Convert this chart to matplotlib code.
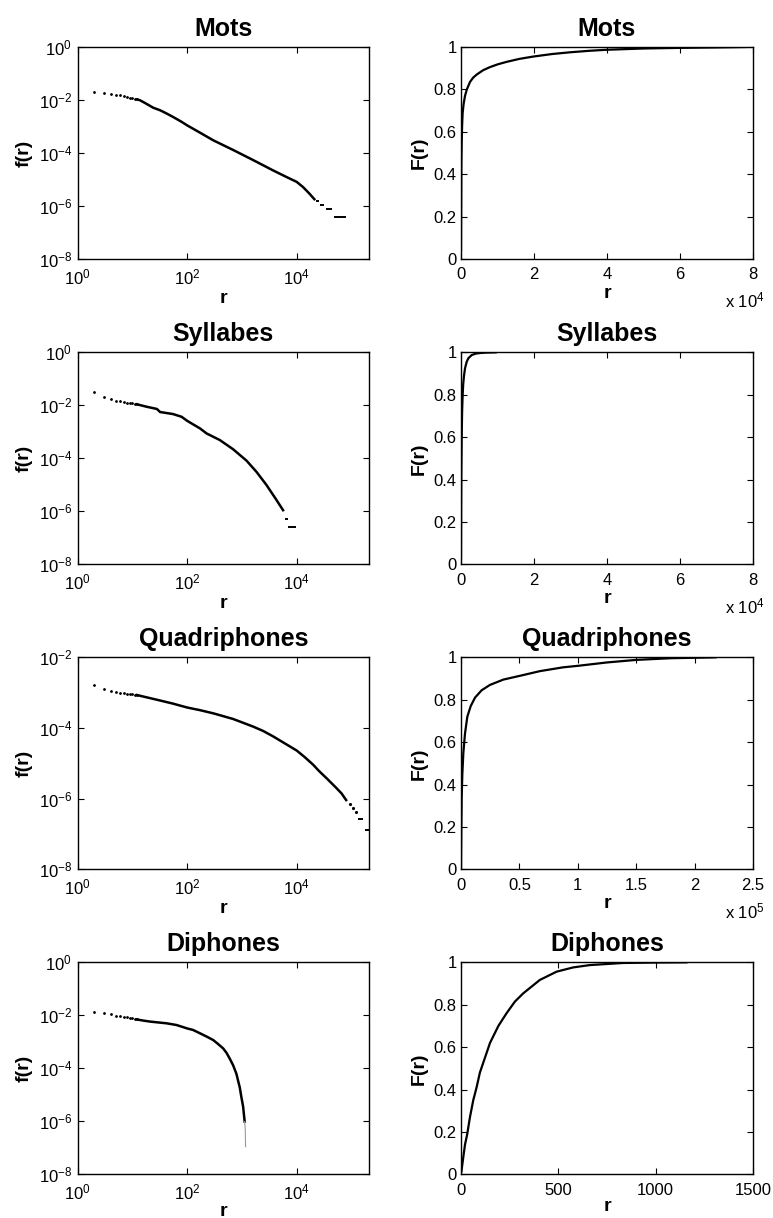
import numpy as np
import matplotlib
matplotlib.use('Agg')
from matplotlib import pyplot as plt

plt.rcParams['font.family'] = ['Liberation Sans', 'DejaVu Sans']
plt.rcParams['mathtext.fontset'] = 'custom'
plt.rcParams['mathtext.rm'] = 'Liberation Sans'
plt.rcParams['mathtext.it'] = 'Liberation Sans:italic'
plt.rcParams['mathtext.bf'] = 'Liberation Sans:bold'

titles = ['Mots', 'Syllabes', 'Quadriphones', 'Diphones']

# first ranks, drawn as separate dots
dot_r = [2, 3, 4, 5, 6, 7, 8, 9, 10, 11, 12]
mots_dot_f = [0.020, 0.018, 0.017, 0.016, 0.015, 0.014, 0.013, 0.012, 0.0115, 0.011, 0.0105]
syl_dot_f = [0.033, 0.020, 0.017, 0.015, 0.014, 0.013, 0.0125, 0.012, 0.012, 0.0115, 0.011]
quad_dot_f = [1.6e-3, 1.26e-3, 1.1e-3, 1.05e-3, 1.0e-3, 9.7e-4, 9.4e-4, 9.2e-4, 9.0e-4, 8.8e-4, 8.6e-4]
di_dot_f = [0.0138, 0.012, 0.011, 0.0098, 0.0092, 0.0087, 0.0083, 0.0080, 0.0077, 0.0073, 0.0070]

# dense part of rank/frequency curves
mots_r = [12, 13.7, 18, 24, 32, 42, 55, 79, 100, 170, 300, 690, 1600, 3700, 6400,
          10000, 13000, 17000, 21000]
mots_f = [0.0105, 0.0098, 0.0072, 0.0051, 0.0041, 0.0031, 0.0023, 0.0015, 0.0011, 5.9e-4,
          3.0e-4, 1.3e-4, 5.4e-5, 2.2e-5, 1.26e-5, 8.1e-6, 5.2e-6, 2.95e-6, 1.8e-6]
syl_r = [12, 18, 28, 32, 55, 79, 100, 171, 226, 394, 690, 1210, 1840, 2800, 4260, 5640]
syl_f = [0.011, 0.0089, 0.0073, 0.0056, 0.0047, 0.0037, 0.0026, 1.35e-3, 8.7e-4, 4.9e-4,
         2.2e-4, 8.2e-5, 3.1e-5, 9.9e-6, 2.7e-6, 1.1e-6]
quad_r = [12, 32, 55, 100, 171, 300, 690, 1590, 2420, 3700, 6000, 10000, 14000, 20000,
          26000, 35000, 53000, 66000, 80000]
quad_f = [8.6e-4, 6.0e-4, 4.9e-4, 3.8e-4, 3.2e-4, 2.6e-4, 1.8e-4, 1.1e-4, 8.3e-5, 5.8e-5,
          3.7e-5, 2.3e-5, 1.5e-5, 9.1e-6, 5.9e-6, 3.8e-6, 2.0e-6, 1.4e-6, 9.1e-7]
quad_tail_r = [93000, 106000, 123000]
quad_tail_f = [7.1e-7, 5.4e-7, 4.1e-7]
di_r = [12, 16, 21, 42, 64, 100, 128, 171, 226, 298, 368, 455, 524, 600, 690, 794, 850,
        912, 977, 1050, 1120]
di_f = [0.0070, 0.0063, 0.0058, 0.0050, 0.0043, 0.0032, 0.0028, 0.0021, 1.58e-3, 1.17e-3,
        8.2e-4, 5.6e-4, 3.8e-4, 2.3e-4, 1.3e-4, 6.1e-5, 3.4e-5, 1.9e-5, 8.1e-6, 3.6e-6, 9.8e-7]
di_tail_r = [1120, 1150, 1165]
di_tail_f = [9.8e-7, 4.7e-7, 1.1e-7]

# plateaus at the end (few occurrences)
mots_step_r0 = [22500, 27000, 34000, 47000]
mots_step_r1 = [26000, 32000, 45000, 80000]
mots_step_f = [1.48e-6, 1.1e-6, 7.4e-7, 3.7e-7]
syl_step_r0 = [6000, 6900]
syl_step_r1 = [6800, 9600]
syl_step_f = [5.0e-7, 2.5e-7]
quad_step_r0 = [130000, 175000]
quad_step_r1 = [160000, 220000]
quad_step_f = [2.6e-7, 1.3e-7]

# cumulative curves
mots_cr = [1, 100, 200, 300, 450, 700, 1100, 1600, 2460, 3300, 4300, 6000, 7900, 10000,
           12500, 16000, 19800, 25000, 29800, 35000, 39900, 50000, 60000, 70000, 78000]
mots_F = [0.04, 0.45, 0.56, 0.63, 0.69, 0.73, 0.77, 0.80, 0.835, 0.855, 0.87, 0.89, 0.905,
          0.918, 0.93, 0.944, 0.955, 0.967, 0.975, 0.982, 0.987, 0.993, 0.996, 0.998, 1.0]
syl_cr = [1, 50, 100, 200, 300, 450, 600, 820, 1100, 1550, 2000, 2900, 4000, 5200, 7000, 9500]
syl_F = [0.03, 0.3, 0.45, 0.62, 0.72, 0.80, 0.85, 0.89, 0.925, 0.955, 0.972, 0.987, 0.994,
         0.997, 0.999, 1.0]
quad_cr = [1, 285, 570, 1140, 2000, 3400, 5400, 8300, 12000, 17700, 24800, 36200, 50500,
           67600, 87500, 100000, 125000, 150000, 180000, 218000]
quad_F = [0.002, 0.2, 0.34, 0.45, 0.55, 0.64, 0.72, 0.77, 0.81, 0.845, 0.87, 0.895, 0.913,
          0.935, 0.953, 0.96, 0.976, 0.988, 0.996, 1.0]
di_cr = [2, 12, 20.5, 32, 46, 63, 80, 97, 123, 149, 192, 234, 277, 320, 405, 491, 576, 661,
         832, 1004, 1158]
di_F = [0.013, 0.083, 0.14, 0.19, 0.27, 0.35, 0.41, 0.48, 0.55, 0.62, 0.70, 0.76, 0.815,
        0.854, 0.917, 0.956, 0.976, 0.987, 0.997, 0.999, 1.0]

cdf_xticks = [[0, 20000, 40000, 60000, 80000], [0, 20000, 40000, 60000, 80000],
              [0, 50000, 100000, 150000, 200000, 250000], [0, 500, 1000, 1500]]
cdf_xlabels = [['0', '2', '4', '6', '8'], ['0', '2', '4', '6', '8'],
               ['0', '0.5', '1', '1.5', '2', '2.5'], ['0', '500', '1000', '1500']]
cdf_mult = ['x 10$^{4}$', 'x 10$^{4}$', 'x 10$^{5}$', '']
F_ticks = [0, 0.2, 0.4, 0.6, 0.8, 1]
F_labels = ['0', '0.2', '0.4', '0.6', '0.8', '1']

dots_f = [mots_dot_f, syl_dot_f, quad_dot_f, di_dot_f]
lines = [(mots_r, mots_f), (syl_r, syl_f), (quad_r, quad_f), (di_r, di_f)]
steps = [(mots_step_r0, mots_step_r1, mots_step_f), (syl_step_r0, syl_step_r1, syl_step_f),
         (quad_step_r0, quad_step_r1, quad_step_f), None]
cdfs = [(mots_cr, mots_F), (syl_cr, syl_F), (quad_cr, quad_F), (di_cr, di_F)]

fig = plt.figure(figsize=(7.73, 12.18), dpi=100)
row_bottoms = [0.7874, 0.5367, 0.2863, 0.0359]
h = 0.174

def style(ax, ypad):
    ax.tick_params(direction='in', length=4, width=0.8, top=True, right=True, labelsize=12)
    ax.tick_params(axis='x', pad=6)
    ax.tick_params(axis='y', pad=ypad)
    ax.tick_params(which='minor', length=0)
    for s in ax.spines.values():
        s.set_linewidth(1.0)

for i in range(4):
    # bottom row has little room under it
    xlpad = 2 if i < 3 else 0

    ax = fig.add_axes([0.1005, row_bottoms[i], 0.377, h])
    ax.loglog(dot_r, dots_f[i], 'k.', markersize=2)
    ax.loglog(lines[i][0], lines[i][1], 'k-', linewidth=1.8)
    if steps[i] is not None:
        ax.hlines(steps[i][2], steps[i][0], steps[i][1], colors='k', linewidth=1.4)
    if i == 2:
        ax.loglog(quad_tail_r, quad_tail_f, 'k.', markersize=2.5)
    if i == 3:
        ax.loglog(di_tail_r, di_tail_f, '-', color='0.6', linewidth=0.8)
    ax.set_xlim(1, 2.1e5)
    if i == 2:
        ax.set_ylim(1e-8, 1e-2)
        ax.set_yticks([1e-2, 1e-4, 1e-6, 1e-8])
    else:
        ax.set_ylim(1e-8, 1)
        ax.set_yticks([1, 1e-2, 1e-4, 1e-6, 1e-8])
    ax.set_xticks([1, 100, 10000])
    ax.minorticks_off()
    style(ax, 4)
    ax.set_title(titles[i], fontsize=18, fontweight='bold', pad=8)
    ax.set_xlabel('r', fontsize=14, fontweight='bold', labelpad=xlpad)
    ax.set_ylabel('f(r)', fontsize=14, fontweight='bold', labelpad=4)

    ax2 = fig.add_axes([0.5964, row_bottoms[i], 0.3777, h])
    ax2.plot(cdfs[i][0], cdfs[i][1], 'k-', linewidth=1.6)
    ax2.set_xlim(cdf_xticks[i][0], cdf_xticks[i][-1])
    ax2.set_ylim(0, 1)
    ax2.set_xticks(cdf_xticks[i])
    ax2.set_xticklabels(cdf_xlabels[i])
    ax2.set_yticks(F_ticks)
    ax2.set_yticklabels(F_labels)
    style(ax2, 3)
    ax2.set_title(titles[i], fontsize=18, fontweight='bold', pad=8)
    ax2.set_xlabel('r', fontsize=14, fontweight='bold', labelpad=xlpad)
    ax2.set_ylabel('F(r)', fontsize=14, fontweight='bold', labelpad=4)
    if cdf_mult[i]:
        ax2.text(1.04, -0.15, cdf_mult[i], transform=ax2.transAxes, ha='right', va='top', fontsize=12)

fig.savefig('out.png', dpi=100)
